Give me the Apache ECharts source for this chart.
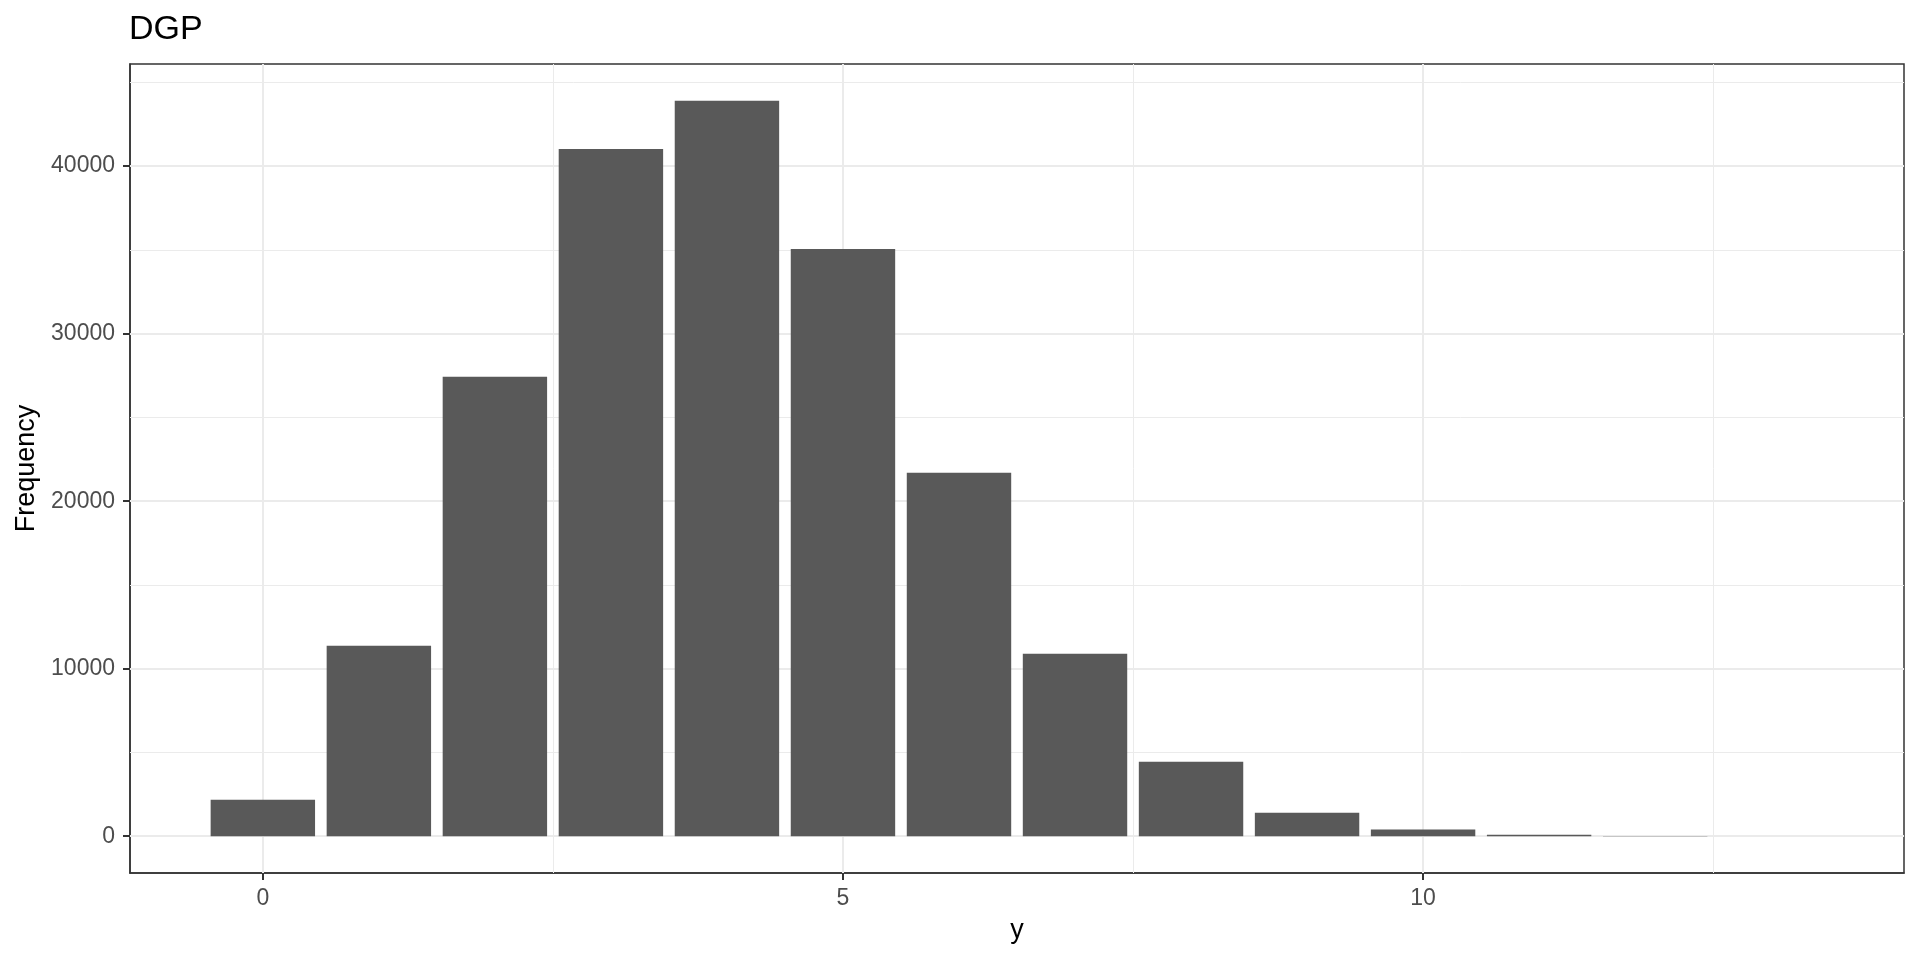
<!DOCTYPE html>
<html>
<head>
<meta charset="utf-8">
<script src="https://cdn.jsdelivr.net/npm/echarts@6/dist/echarts.min.js"></script>
<style>
html,body{margin:0;padding:0;background:#fff;}
#chart{width:1920px;height:960px;}
</style>
</head>
<body>
<div id="chart"></div>
<script>
// ---- data ----
const yValues = [0, 1, 2, 3, 4, 5, 6, 7, 8, 9, 10, 11, 12, 13];
const frequency = [2180, 11370, 27420, 41020, 43900, 35050, 21690, 10890, 4450, 1400, 400, 90, 8, 2];
const xTicks = [0, 5, 10];
const yTicks = [0, 10000, 20000, 30000, 40000];
const xMinorGrid = [2.5, 7.5, 12.5];
const yMinorGrid = [5000, 15000, 25000, 35000, 45000];
const titleText = 'DGP';
const xTitle = 'y';
const yTitle = 'Frequency';

const BAR_HALF = 0.45;
const FONT = "'Liberation Sans', Arial, Helvetica, sans-serif";
const maxF = Math.max(...frequency);
const yMin = -0.05 * maxF, yMax = 1.05 * maxF;
const xLo = yValues[0] - BAR_HALF, xHi = yValues[yValues.length - 1] + BAR_HALF;
const xPad = 0.05 * (xHi - xLo);

const gridLines = [];
yTicks.forEach(v => gridLines.push({yAxis: v, lineStyle: {color: '#EBEBEB', width: 2, type: 'solid'}}));
yMinorGrid.forEach(v => gridLines.push({yAxis: v, lineStyle: {color: '#EBEBEB', width: 1, type: 'solid'}}));
xTicks.forEach(v => gridLines.push({xAxis: v, lineStyle: {color: '#EBEBEB', width: 2, type: 'solid'}}));
xMinorGrid.forEach(v => gridLines.push({xAxis: v, lineStyle: {color: '#EBEBEB', width: 1, type: 'solid'}}));

const chart = echarts.init(document.getElementById('chart'), null, {renderer: 'canvas'});
chart.setOption({
  animation: false,
  backgroundColor: '#ffffff',
  title: {
    text: titleText, left: 129, top: 13, padding: 0,
    textStyle: {fontFamily: FONT, fontSize: 34, fontWeight: 'normal', color: '#000000'}
  },
  grid: {
    left: 130, right: 16, top: 64, bottom: 87,
    show: true, borderColor: '#333333', borderWidth: 1.5, backgroundColor: 'transparent'
  },
  xAxis: {
    type: 'value', min: xLo - xPad, max: xHi + xPad,
    name: xTitle, nameLocation: 'middle', nameGap: 44,
    nameTextStyle: {fontFamily: FONT, fontSize: 27, color: '#000000'},
    axisLine: {show: true, onZero: false, lineStyle: {color: '#333333', width: 1.5}},
    axisTick: {show: true, length: 7, customValues: xTicks, lineStyle: {color: '#333333', width: 2}},
    axisLabel: {customValues: xTicks, margin: 14, fontFamily: FONT, fontSize: 23, color: '#4D4D4D',
      formatter: v => String(v)},
    splitLine: {show: false}
  },
  yAxis: {
    type: 'value', min: yMin, max: yMax,
    name: yTitle, nameLocation: 'middle', nameGap: 89, nameRotate: 90,
    nameTextStyle: {fontFamily: FONT, fontSize: 27, color: '#000000'},
    axisLine: {show: true, onZero: false, lineStyle: {color: '#333333', width: 1.5}},
    axisTick: {show: true, length: 7, customValues: yTicks, lineStyle: {color: '#333333', width: 2}},
    axisLabel: {customValues: yTicks, margin: 15, fontFamily: FONT, fontSize: 23, color: '#4D4D4D',
      formatter: v => String(v)},
    splitLine: {show: false}
  },
  series: [
    {
      type: 'line', data: [], z: 1, silent: true,
      markLine: {silent: true, z: 1, symbol: 'none', label: {show: false}, animation: false, data: gridLines}
    },
    {
      type: 'custom', z: 10,
      data: yValues.map((v, i) => [v, frequency[i]]),
      renderItem: function (params, api) {
        const x = api.value(0), f = api.value(1);
        const p1 = api.coord([x - BAR_HALF, f]);
        const p2 = api.coord([x + BAR_HALF, 0]);
        return {
          type: 'rect',
          shape: {x: p1[0], y: p1[1], width: p2[0] - p1[0], height: p2[1] - p1[1]},
          style: {fill: '#595959'}
        };
      }
    }
  ]
});
</script>
</body>
</html>
